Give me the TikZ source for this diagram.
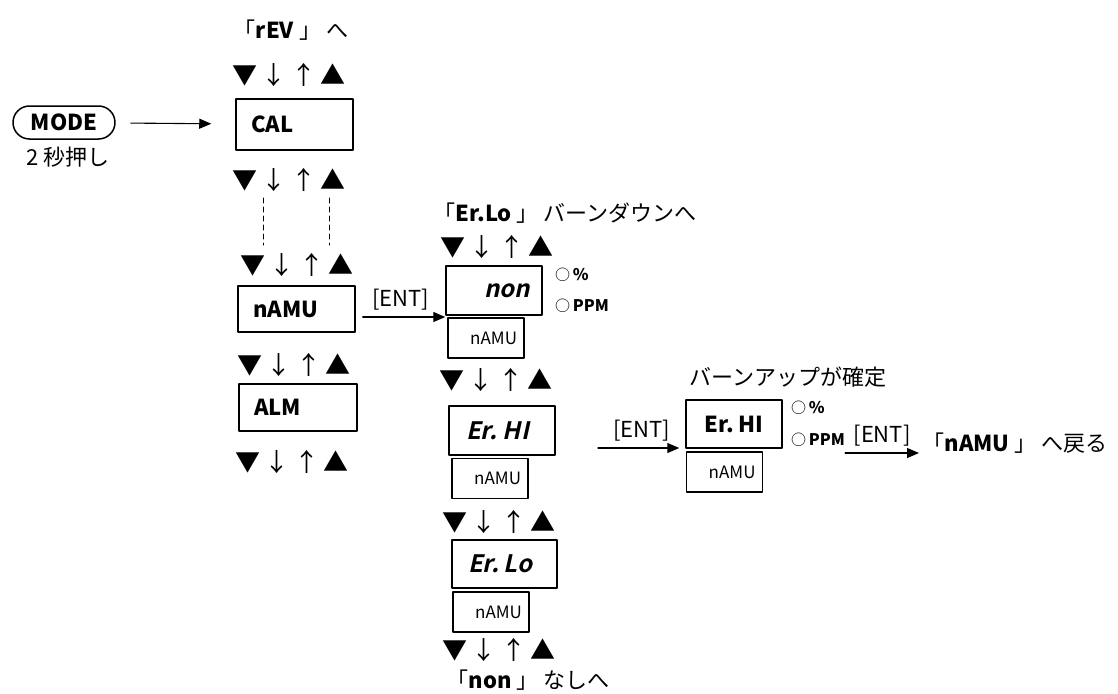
\documentclass[tikz,border=0pt]{standalone}
\usepackage{fontspec}
\setmainfont{Noto Sans CJK JP}
\newfontfamily\slfont{Noto Sans CJK JP Bold}[FakeSlant=0.22]
\usetikzlibrary{arrows.meta,shapes.misc}
\newcommand{\keys}{▼\,↓\,↑\,▲}
\newcommand{\unitmark}[1]{{\mdseries\fontsize{15}{16}\selectfont ○}\,#1}
\begin{document}
\begin{tikzpicture}[x=1pt,y=-1pt,line cap=round,line join=round,>={Triangle[length=12pt,width=10pt]},
	font=\fontsize{22}{26}\selectfont,
	disp/.style={draw,line width=1.5pt,inner xsep=15pt,inner ysep=0pt,minimum height=48pt},
	sub/.style={draw,line width=1.2pt,inner xsep=7pt,inner ysep=0pt,text width=62pt,align=right,minimum height=40pt,font=\fontsize{17}{18}\selectfont},
	keyrow/.style={font=\fontsize{25}{26}\selectfont,inner sep=0pt},
	unit/.style={font=\fontsize{16}{16}\selectfont\bfseries,inner sep=0pt,anchor=west},
	link/.style={->,line width=1.1pt}]
\useasboundingbox (0,0) rectangle (1118,693);
% left column
\node (rev) at (291,30) {「\textbf{rEV} 」 へ};
\node[keyrow] (k0) at (289,75) {\keys};
\node[disp,text width=87pt,minimum height=51pt,align=left] (cal) at (294.5,124.5) {\textbf{CAL}};
\node[keyrow] (k1) at (289,180) {\keys};
\coordinate (da) at (263,198); \coordinate (db) at (329,198);
\draw[dashed,dash pattern=on 5pt off 4pt,line width=1pt] (da) -- ++(0,47) (db) -- ++(0,47);
\node[keyrow] (k2) at (297,265) {\keys};
\node[disp,text width=87pt,minimum height=46pt,align=left] (namu) at (296.5,309) {\textbf{nAMU}};
\node[keyrow] (k3) at (294,365) {\keys};
\node[disp,text width=88pt,minimum height=47pt,align=left] (alm) at (298,407.5) {\textbf{ALM}};
\node[keyrow] (k4) at (292,462) {\keys};
\node[draw,rounded rectangle,line width=1.5pt,minimum width=102pt,minimum height=33pt,inner sep=0pt] (mode) at (64,122.5) {\textbf{MODE}};
\node (sec) at (68,157) {2 秒押し};
\draw[link,shorten <=15pt,shorten >=24pt] (mode) -- (cal);
% middle column
\node[anchor=west] (erlo) at (430,213) {「\textbf{Er.Lo} 」 バーンダウンへ};
\node[keyrow] (m0) at (497,247) {\keys};
\node[disp,inner xsep=12pt,text width=72pt,minimum height=49pt,align=right,font=\fontsize{24}{26}\slfont] (non) at (494,290.5) {non};
\node[unit] (pc1) at (555,275) {\unitmark{\%}};
\node[unit] (ppm1) at (555,306) {\unitmark{PPM}};
\node[sub] (s1) at (486,338) {nAMU};
\draw[link,shorten <=7pt] ([yshift=-8pt]namu.east) -- ([yshift=-8pt]namu.east -| non.west) node[midway,above=3pt]{[ENT]};
\node[keyrow] (m1) at (496,380) {\keys};
\node[disp,inner xsep=17pt,text width=72pt,minimum height=49pt,align=left,font=\fontsize{24}{26}\slfont] (ehi) at (502,430.5) {Er.\kern6pt HI};
\node[sub] (s2) at (490,478.5) {nAMU};
\node[keyrow] (m2) at (499,522) {\keys};
\node[disp,inner xsep=16pt,text width=73pt,minimum height=48pt,align=left,font=\fontsize{24}{26}\slfont] (elo) at (504.5,564) {Er.\kern5pt Lo};
\node[sub] (s3) at (491,612) {nAMU};
\node[keyrow] (m3) at (499,650) {\keys};
\node[anchor=west] (nonx) at (443,680) {「\textbf{non} 」 なしへ};
% right part
\node (up) at (788,377) {バーンアップが確定};
\node[disp,text width=66pt,minimum height=48pt,align=center] (ehr) at (734,424) {\textbf{Er.\kern4pt HI}};
\node[sub] (s4) at (724.5,472) {nAMU};
\node[unit] (pc2) at (791,408) {\unitmark{\%}};
\node[unit] (ppm2) at (791,440) {\unitmark{PPM}};
\coordinate (ea) at (598,448);
\draw[link,shorten >=6pt] (ea) -- (ea -| ehr.west) node[midway,above=3pt]{[ENT]};
\node[anchor=west] (back) at (919,443) {「\textbf{nAMU} 」 へ戻る};
\draw[link] ([yshift=-13pt]ppm2.east) -- ([yshift=-13pt]ppm2.east -| back.west) node[midway,above=3pt]{[ENT]};
\end{tikzpicture}
\end{document}
